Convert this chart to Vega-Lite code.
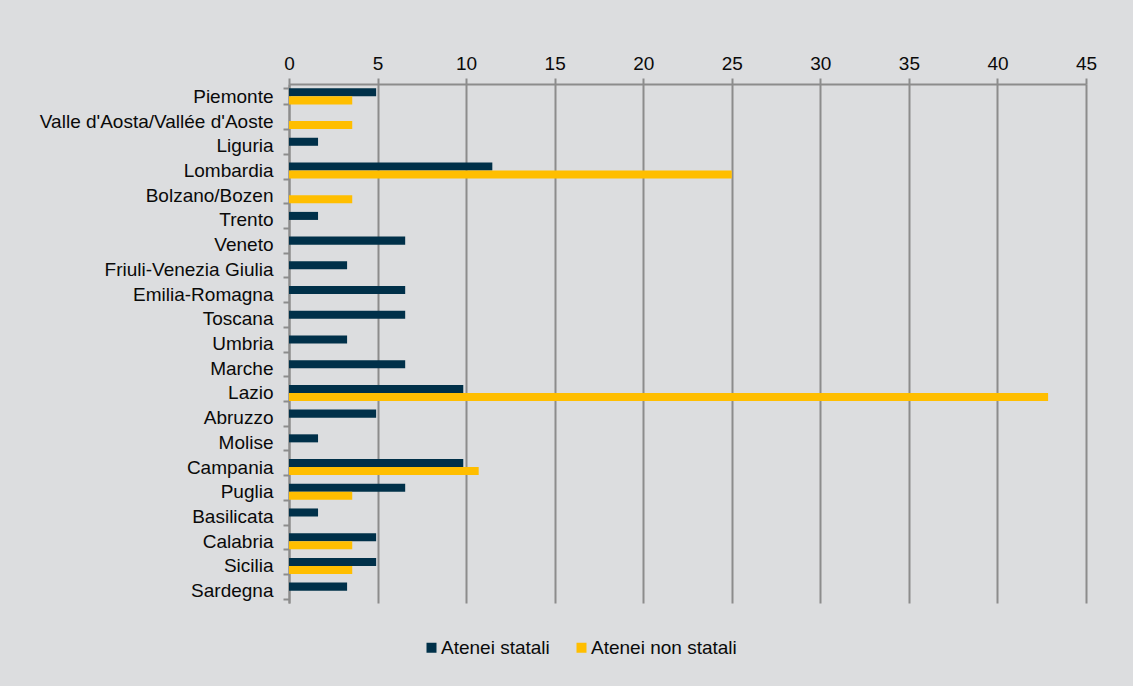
{
  "$schema": "https://vega.github.io/schema/vega-lite/v6.json",
  "autosize": {"type": "none"},
  "width": 797,
  "height": 519,
  "padding": {"left": 289, "top": 84, "right": 47, "bottom": 83},
  "background": "#dcdddf",
  "data": {
    "values": [
      {"regione": "Piemonte", "tipo": "Atenei statali", "valore": 4.92},
      {"regione": "Piemonte", "tipo": "Atenei non statali", "valore": 3.57},
      {"regione": "Valle d'Aosta/Vallée d'Aoste", "tipo": "Atenei statali", "valore": 0},
      {"regione": "Valle d'Aosta/Vallée d'Aoste", "tipo": "Atenei non statali", "valore": 3.57},
      {"regione": "Liguria", "tipo": "Atenei statali", "valore": 1.64},
      {"regione": "Liguria", "tipo": "Atenei non statali", "valore": 0},
      {"regione": "Lombardia", "tipo": "Atenei statali", "valore": 11.48},
      {"regione": "Lombardia", "tipo": "Atenei non statali", "valore": 25.0},
      {"regione": "Bolzano/Bozen", "tipo": "Atenei statali", "valore": 0},
      {"regione": "Bolzano/Bozen", "tipo": "Atenei non statali", "valore": 3.57},
      {"regione": "Trento", "tipo": "Atenei statali", "valore": 1.64},
      {"regione": "Trento", "tipo": "Atenei non statali", "valore": 0},
      {"regione": "Veneto", "tipo": "Atenei statali", "valore": 6.56},
      {"regione": "Veneto", "tipo": "Atenei non statali", "valore": 0},
      {"regione": "Friuli-Venezia Giulia", "tipo": "Atenei statali", "valore": 3.28},
      {"regione": "Friuli-Venezia Giulia", "tipo": "Atenei non statali", "valore": 0},
      {"regione": "Emilia-Romagna", "tipo": "Atenei statali", "valore": 6.56},
      {"regione": "Emilia-Romagna", "tipo": "Atenei non statali", "valore": 0},
      {"regione": "Toscana", "tipo": "Atenei statali", "valore": 6.56},
      {"regione": "Toscana", "tipo": "Atenei non statali", "valore": 0},
      {"regione": "Umbria", "tipo": "Atenei statali", "valore": 3.28},
      {"regione": "Umbria", "tipo": "Atenei non statali", "valore": 0},
      {"regione": "Marche", "tipo": "Atenei statali", "valore": 6.56},
      {"regione": "Marche", "tipo": "Atenei non statali", "valore": 0},
      {"regione": "Lazio", "tipo": "Atenei statali", "valore": 9.84},
      {"regione": "Lazio", "tipo": "Atenei non statali", "valore": 42.86},
      {"regione": "Abruzzo", "tipo": "Atenei statali", "valore": 4.92},
      {"regione": "Abruzzo", "tipo": "Atenei non statali", "valore": 0},
      {"regione": "Molise", "tipo": "Atenei statali", "valore": 1.64},
      {"regione": "Molise", "tipo": "Atenei non statali", "valore": 0},
      {"regione": "Campania", "tipo": "Atenei statali", "valore": 9.84},
      {"regione": "Campania", "tipo": "Atenei non statali", "valore": 10.71},
      {"regione": "Puglia", "tipo": "Atenei statali", "valore": 6.56},
      {"regione": "Puglia", "tipo": "Atenei non statali", "valore": 3.57},
      {"regione": "Basilicata", "tipo": "Atenei statali", "valore": 1.64},
      {"regione": "Basilicata", "tipo": "Atenei non statali", "valore": 0},
      {"regione": "Calabria", "tipo": "Atenei statali", "valore": 4.92},
      {"regione": "Calabria", "tipo": "Atenei non statali", "valore": 3.57},
      {"regione": "Sicilia", "tipo": "Atenei statali", "valore": 4.92},
      {"regione": "Sicilia", "tipo": "Atenei non statali", "valore": 3.57},
      {"regione": "Sardegna", "tipo": "Atenei statali", "valore": 3.28},
      {"regione": "Sardegna", "tipo": "Atenei non statali", "valore": 0}
    ]
  },
  "mark": {"type": "bar", "stroke": null},
  "encoding": {
    "y": {
      "field": "regione",
      "type": "nominal",
      "sort": null,
      "title": null,
      "scale": {"paddingInner": 0.35, "paddingOuter": 0.175},
      "axis": {
        "tickBand": "extent",
        "tickSize": 6,
        "labelPadding": 10,
        "labelLimit": 400,
        "domainColor": "#8c8c8c",
        "domainWidth": 2,
        "tickColor": "#8c8c8c",
        "tickWidth": 2,
        "grid": false
      }
    },
    "yOffset": {
      "field": "tipo",
      "type": "nominal",
      "sort": ["Atenei statali", "Atenei non statali"]
    },
    "x": {
      "field": "valore",
      "type": "quantitative",
      "title": null,
      "scale": {"domain": [0, 45], "nice": false},
      "axis": {
        "orient": "top",
        "values": [0, 5, 10, 15, 20, 25, 30, 35, 40, 45],
        "tickSize": 6,
        "labelPadding": 5,
        "labelFlush": false,
        "labelBound": false,
        "domainColor": "#8c8c8c",
        "domainWidth": 2,
        "tickColor": "#8c8c8c",
        "tickWidth": 2,
        "grid": true,
        "gridColor": "#8c8c8c",
        "gridWidth": 2,
        "gridOpacity": 1
      }
    },
    "color": {
      "field": "tipo",
      "type": "nominal",
      "sort": ["Atenei statali", "Atenei non statali"],
      "scale": {"domain": ["Atenei statali", "Atenei non statali"], "range": ["#003049", "#ffbe00"]},
      "legend": {
        "title": null,
        "orient": "none",
        "direction": "horizontal",
        "legendX": 133,
        "legendY": 554,
        "symbolType": "square",
        "symbolSize": 100,
        "symbolStrokeWidth": 0,
        "labelOffset": 0,
        "columnPadding": 22
      }
    }
  },
  "config": {
    "font": "Liberation Sans",
    "view": {"stroke": null},
    "axis": {
      "labelFont": "Liberation Sans",
      "labelFontSize": 19,
      "labelColor": "#0a0a0a"
    },
    "legend": {
      "labelFont": "Liberation Sans",
      "labelFontSize": 19,
      "labelColor": "#0a0a0a"
    }
  }
}
